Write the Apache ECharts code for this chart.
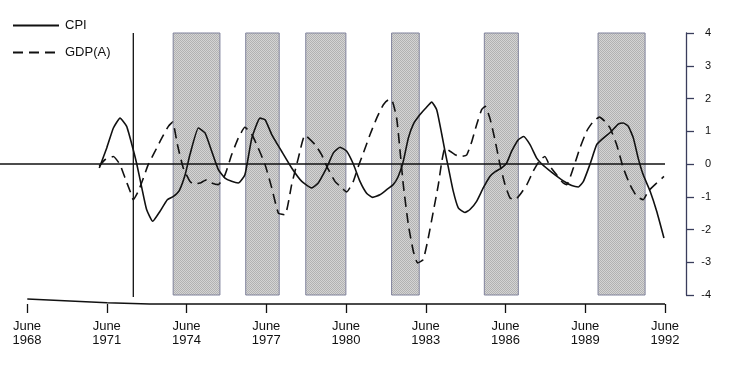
<!DOCTYPE html>
<html><head><meta charset="utf-8">
<script src="https://cdn.jsdelivr.net/npm/echarts@6/dist/echarts.min.js"></script>
<style>html,body{margin:0;padding:0;background:#fff}#c{width:730px;height:367px}</style>
</head><body><div id="c"></div>
<script>
// ---- data ----
const tickYears = [1968, 1971, 1974, 1977, 1980, 1983, 1986, 1989, 1992];
const cpiYears = [1971.21,1971.49,1971.74,1971.99,1972.24,1972.47,1972.62,1972.81,1972.99,1973.22,1973.49,1973.77,1974.00,1974.22,1974.44,1974.62,1974.94,1975.19,1975.44,1975.69,1975.94,1976.19,1976.44,1976.69,1976.95,1977.26,1977.45,1977.70,1978.07,1978.45,1978.83,1979.20,1979.45,1979.70,1979.83,1980.02,1980.27,1980.52,1980.77,1981.02,1981.27,1981.50,1981.77,1982.03,1982.27,1982.46,1982.65,1982.84,1983.03,1983.28,1983.50,1983.72,1983.91,1984.10,1984.22,1984.35,1984.53,1984.72,1984.97,1985.16,1985.41,1985.66,1985.91,1986.10,1986.35,1986.54,1986.73,1986.98,1987.18,1987.42,1987.67,1987.86,1988.11,1988.36,1988.74,1988.99,1989.24,1989.43,1989.68,1989.93,1990.18,1990.49,1990.74,1990.93,1991.12,1991.31,1991.49,1991.68,1991.94,1992.19,1992.46];
const cpiValues = [-0.12,0.49,1.10,1.40,1.15,0.49,0.00,-0.73,-1.39,-1.75,-1.45,-1.09,-0.99,-0.81,-0.33,0.28,1.10,0.95,0.39,-0.17,-0.43,-0.53,-0.58,-0.33,0.79,1.40,1.35,0.90,0.39,-0.12,-0.53,-0.73,-0.58,-0.22,0.00,0.34,0.51,0.39,0.00,-0.53,-0.89,-1.02,-0.94,-0.78,-0.63,-0.38,0.08,0.79,1.22,1.51,1.71,1.89,1.65,0.90,0.39,-0.12,-0.83,-1.34,-1.48,-1.39,-1.14,-0.73,-0.38,-0.24,-0.12,0.03,0.39,0.74,0.84,0.59,0.18,0.00,-0.17,-0.33,-0.55,-0.66,-0.70,-0.53,0.00,0.59,0.79,1.00,1.22,1.25,1.15,0.79,0.18,-0.33,-0.83,-1.45,-2.26];
const gdpYears = [1971.21,1971.42,1971.74,1971.99,1972.18,1972.37,1972.49,1972.68,1972.87,1973.05,1973.31,1973.56,1973.81,1973.97,1974.15,1974.37,1974.62,1974.75,1975.00,1975.25,1975.44,1975.69,1975.94,1976.19,1976.44,1976.69,1976.95,1977.19,1977.45,1977.70,1977.95,1978.20,1978.45,1978.70,1978.95,1979.33,1979.58,1979.77,1980.08,1980.27,1980.52,1980.77,1980.96,1981.15,1981.40,1981.65,1981.90,1982.09,1982.21,1982.40,1982.53,1982.65,1982.84,1983.03,1983.19,1983.40,1983.59,1983.78,1983.97,1984.10,1984.22,1984.41,1984.60,1984.85,1985.04,1985.23,1985.41,1985.60,1985.73,1985.91,1986.10,1986.29,1986.48,1986.67,1986.86,1987.04,1987.30,1987.54,1987.80,1987.98,1988.17,1988.42,1988.67,1988.80,1989.05,1989.30,1989.55,1989.80,1990.03,1990.24,1990.43,1990.68,1990.93,1991.18,1991.44,1991.68,1991.87,1992.19,1992.46];
const gdpValues = [-0.07,0.13,0.23,-0.02,-0.43,-0.83,-1.09,-0.83,-0.43,-0.02,0.39,0.79,1.15,1.28,0.59,-0.12,-0.53,-0.61,-0.58,-0.48,-0.58,-0.63,-0.33,0.28,0.79,1.12,0.90,0.49,-0.02,-0.73,-1.50,-1.55,-0.63,0.18,0.88,0.59,0.28,-0.07,-0.53,-0.68,-0.85,-0.53,-0.07,0.34,0.90,1.40,1.81,1.96,1.96,1.40,0.39,-0.63,-1.85,-2.67,-3.02,-2.92,-2.26,-1.45,-0.63,0.08,0.49,0.39,0.28,0.23,0.28,0.69,1.20,1.66,1.76,1.40,0.74,-0.02,-0.63,-1.04,-1.09,-0.94,-0.63,-0.22,0.13,0.23,-0.07,-0.33,-0.58,-0.63,-0.12,0.49,1.00,1.30,1.43,1.30,1.10,0.59,-0.12,-0.63,-0.99,-1.09,-0.83,-0.58,-0.38];
const shadeStart = [1973.99, 1976.72, 1978.98, 1982.21, 1985.70, 1989.98];
const shadeEnd   = [1975.75, 1977.98, 1980.49, 1983.25, 1986.98, 1991.75];
const markerYear = 1972.49;

// ---- chart ----
const FONT = "'Liberation Sans', Arial, Helvetica, sans-serif";
const X_MIN = 1967.473, X_MAX = 1993.29;
const pair = (xs, ys) => xs.map((x, i) => [x, ys[i]]);

const pc = document.createElement('canvas'); pc.width = 2; pc.height = 2;
const g = pc.getContext('2d');
g.fillStyle = '#d4d4d4'; g.fillRect(0, 0, 2, 2);
g.fillStyle = '#b2b2b2'; g.fillRect(0, 0, 1, 1); g.fillRect(1, 1, 1, 1);

const chart = echarts.init(document.getElementById('c'), null, {renderer: 'canvas'});
chart.setOption({
  animation: false,
  backgroundColor: '#fff',
  textStyle: {fontFamily: FONT},
  legend: {
    orient: 'vertical', left: 7, top: 14, itemWidth: 46, itemHeight: 14, itemGap: 14,
    data: ['CPI', 'GDP(A)'],
    itemStyle: {color: 'transparent', borderWidth: 0, opacity: 0},
    textStyle: {fontSize: 13, color: '#111', fontFamily: FONT, padding: [0, 0, 0, 1]}
  },
  grid: [
    {left: 0, right: 44, top: 33, height: 262},
    {left: 27, right: 65, top: 300, height: 4}
  ],
  xAxis: [
    {gridIndex: 0, type: 'value', min: X_MIN, max: X_MAX, show: false},
    {gridIndex: 1, type: 'category', data: tickYears.map(String), boundaryGap: false,
     axisLine: {show: false},
     axisTick: {show: true, alignWithLabel: true, interval: 0, length: 9, lineStyle: {color: '#111', width: 1.3}},
     axisLabel: {interval: 0, formatter: v => 'June\n' + v, margin: 16, fontSize: 13, lineHeight: 13.5, color: '#111', fontFamily: FONT}}
  ],
  yAxis: [
    {gridIndex: 0, type: 'value', position: 'right', min: -4, max: 4, interval: 1,
     axisLine: {show: true, lineStyle: {color: '#3a3d5c', width: 1.3}},
     axisTick: {show: true, length: 8, lineStyle: {color: '#3a3d5c', width: 1.3}},
     axisLabel: {align: 'right', margin: 25, fontSize: 11, color: '#111', fontFamily: FONT},
     splitLine: {show: false}},
    {gridIndex: 1, type: 'value', show: false}
  ],
  series: [
    {name: 'shade', type: 'line', xAxisIndex: 0, yAxisIndex: 0, z: 1, silent: true,
     data: [[X_MIN, 0], [X_MIN, 0]], symbol: 'none', lineStyle: {opacity: 0},
     markArea: {silent: true,
       itemStyle: {color: {image: pc, repeat: 'repeat'}, borderColor: '#80839c', borderWidth: 1},
       data: shadeStart.map((s, i) => [{xAxis: s}, {xAxis: shadeEnd[i]}])}},
    {name: 'zero', type: 'line', z: 3, silent: true, symbol: 'none',
     data: [[X_MIN, 0], [tickYears[tickYears.length - 1] + 0.5, 0]],
     lineStyle: {color: '#111', width: 1.4}},
    {name: 'marker', type: 'line', z: 3, silent: true, symbol: 'none', clip: false,
     data: [[markerYear, 4], [markerYear, -4.06]],
     lineStyle: {color: '#111', width: 1.3}},
    {name: 'baseline', type: 'line', z: 3, silent: true, symbol: 'none', clip: false,
     data: [[1968.5, -4.12], [1971.5, -4.235], [1973.1, -4.275], [1992.5, -4.275]],
     lineStyle: {color: '#111', width: 1.4}},
    {name: 'CPI', type: 'line', z: 5, symbol: 'none', smooth: 0.15,
     data: pair(cpiYears, cpiValues),
     lineStyle: {color: '#111', width: 1.6}, itemStyle: {color: '#111'}},
    {name: 'GDP(A)', type: 'line', z: 5, symbol: 'none', smooth: 0.15,
     data: pair(gdpYears, gdpValues),
     lineStyle: {color: '#111', width: 1.6, type: [10, 6]}, itemStyle: {color: '#111'}}
  ]
});
</script>
</body></html>
